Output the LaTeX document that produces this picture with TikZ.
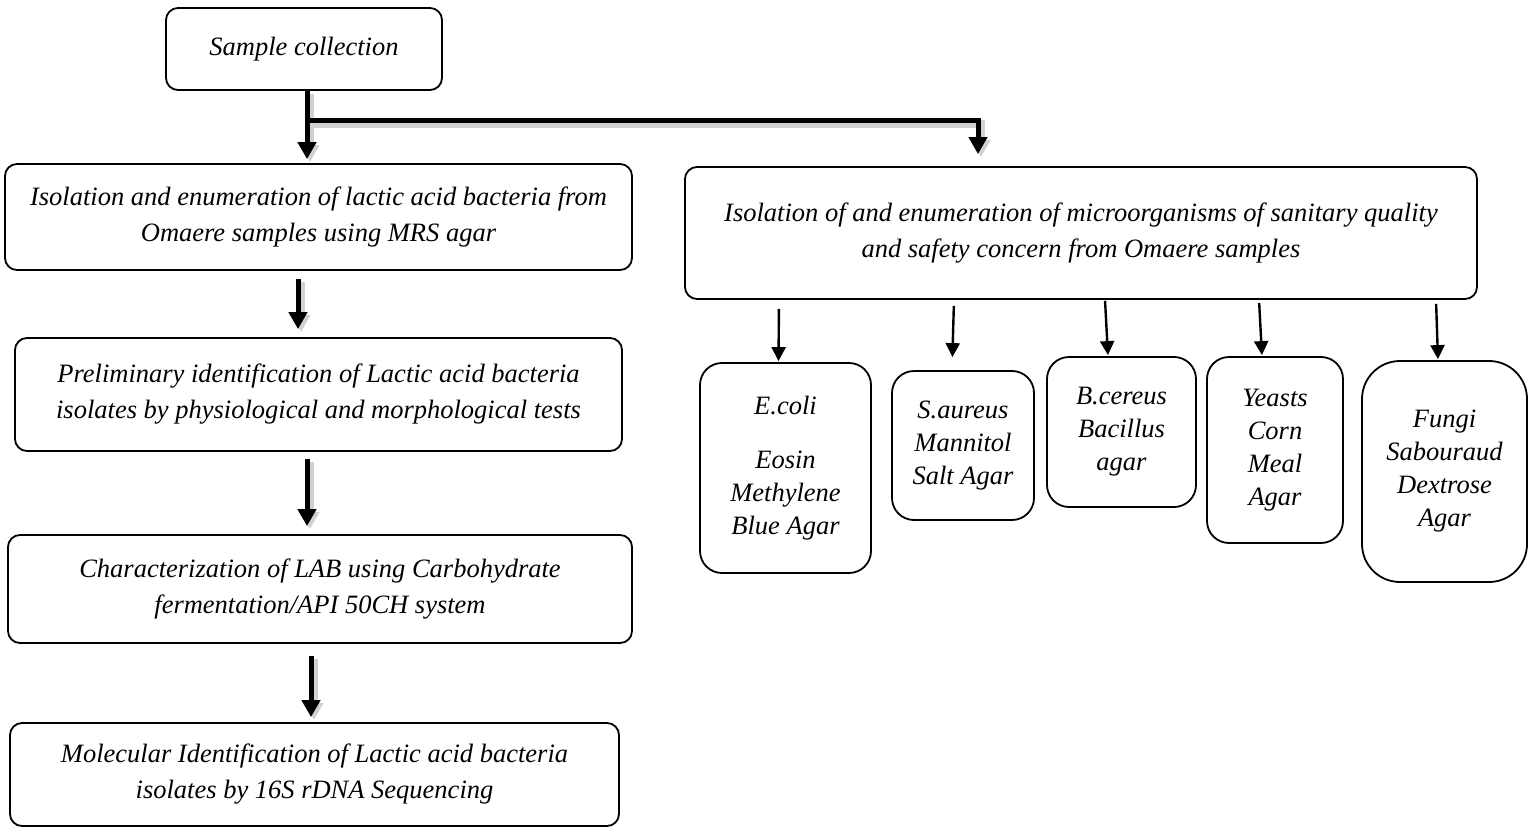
\documentclass[tikz,border=0pt]{standalone}
\usepackage{fontspec}
\setmainfont{Liberation Serif}
\usetikzlibrary{arrows.meta}
\begin{document}
\begin{tikzpicture}[x=1pt,y=-1pt,
  bigbox/.style={draw, line width=1.8pt, rounded corners=12pt, align=center, inner sep=0pt,
    font=\fontsize{26.5}{36}\selectfont\itshape},
  smallbox/.style={draw, line width=1.8pt, rounded corners=22pt, align=center, inner sep=0pt,
    font=\fontsize{26.5}{33}\selectfont\itshape},
  thickarrow/.style={line width=5pt, -{Triangle[length=17pt,width=18pt]},
    preaction={draw=black!18, line width=8pt, transform canvas={shift={(3pt,-3pt)}}}},
  thinarrow/.style={line width=2.4pt, -{Triangle[length=14pt,width=14pt]}}
]
\useasboundingbox (0,0) rectangle (1528,829);

\node[bigbox, minimum width=276pt, minimum height=82pt] (sc) at (304,49) {Sample collection};
\node[bigbox, minimum width=627pt, minimum height=106pt] (lab1) at (318.5,217)
  {Isolation and enumeration of lactic acid bacteria from\\Omaere samples using MRS agar};
\node[bigbox, minimum width=792pt, minimum height=132pt] (right) at (1081,233)
  {Isolation of and enumeration of microorganisms of sanitary quality\\and safety concern from Omaere samples};
\node[bigbox, minimum width=607pt, minimum height=113pt] (prelim) at (318.5,394.5)
  {Preliminary identification of Lactic acid bacteria\\isolates by physiological and morphological tests};
\node[bigbox, minimum width=624pt, minimum height=108pt] (charz) at (320,589)
  {Characterization of LAB using Carbohydrate\\fermentation/API 50CH system};
\node[bigbox, minimum width=609pt, minimum height=103pt] (molec) at (314.5,774.5)
  {Molecular Identification of Lactic acid bacteria\\isolates by 16S rDNA Sequencing};

\node[smallbox, minimum width=171pt, minimum height=210pt] (ecoli) at (785.5,468)
  {E.coli\\[21pt]Eosin\\Methylene\\Blue Agar};
\node[smallbox, minimum width=142pt, minimum height=149pt] (saureus) at (963,445.5)
  {S.aureus\\Mannitol\\Salt Agar};
\node[smallbox, minimum width=149pt, minimum height=150pt] (bcereus) at (1121.5,432)
  {B.cereus\\Bacillus\\agar};
\node[smallbox, minimum width=136pt, minimum height=186pt] (yeasts) at (1275,450)
  {Yeasts\\Corn\\Meal\\Agar};
\node[smallbox, rounded corners=38pt, minimum width=165pt, minimum height=221pt] (fungi) at (1444.5,471.5)
  {Fungi\\Sabouraud\\Dextrose\\Agar};

% thick connectors
\coordinate (j) at (307,121);
\draw[thickarrow, shorten >=4pt] ([xshift=3pt]sc.south) -- ([xshift=3pt]sc.south |- lab1.north);
\draw[thickarrow, shorten >=12pt] (j) -| ([xshift=-103pt]right.north);
\draw[thickarrow, shorten <=8pt, shorten >=8pt] ([xshift=-20.5pt]lab1.south) -- ([xshift=-20.5pt]lab1.south |- prelim.north);
\draw[thickarrow, shorten <=7pt, shorten >=8pt] ([xshift=-11.5pt]prelim.south) -- ([xshift=-11.5pt]prelim.south |- charz.north);
\draw[thickarrow, shorten <=12pt, shorten >=5pt] ([xshift=-9pt]charz.south) -- ([xshift=-9pt]charz.south |- molec.north);

% thin connectors
\draw[thinarrow, shorten <=9pt, shorten >=1pt] (right.south -| 779,0) -- ([xshift=-7pt]ecoli.north);
\draw[thinarrow, shorten <=6pt, shorten >=13pt] (right.south -| 954,0) -- ([xshift=-11pt]saureus.north);
\draw[thinarrow, shorten <=1pt, shorten >=1pt] (right.south -| 1105,0) -- ([xshift=-13.5pt]bcereus.north);
\draw[thinarrow, shorten <=3pt, shorten >=1pt] (right.south -| 1259,0) -- ([xshift=-13pt]yeasts.north);
\draw[thinarrow, shorten <=4pt, shorten >=1pt] (right.south -| 1436,0) -- ([xshift=-6.5pt]fungi.north);
\end{tikzpicture}
\end{document}
